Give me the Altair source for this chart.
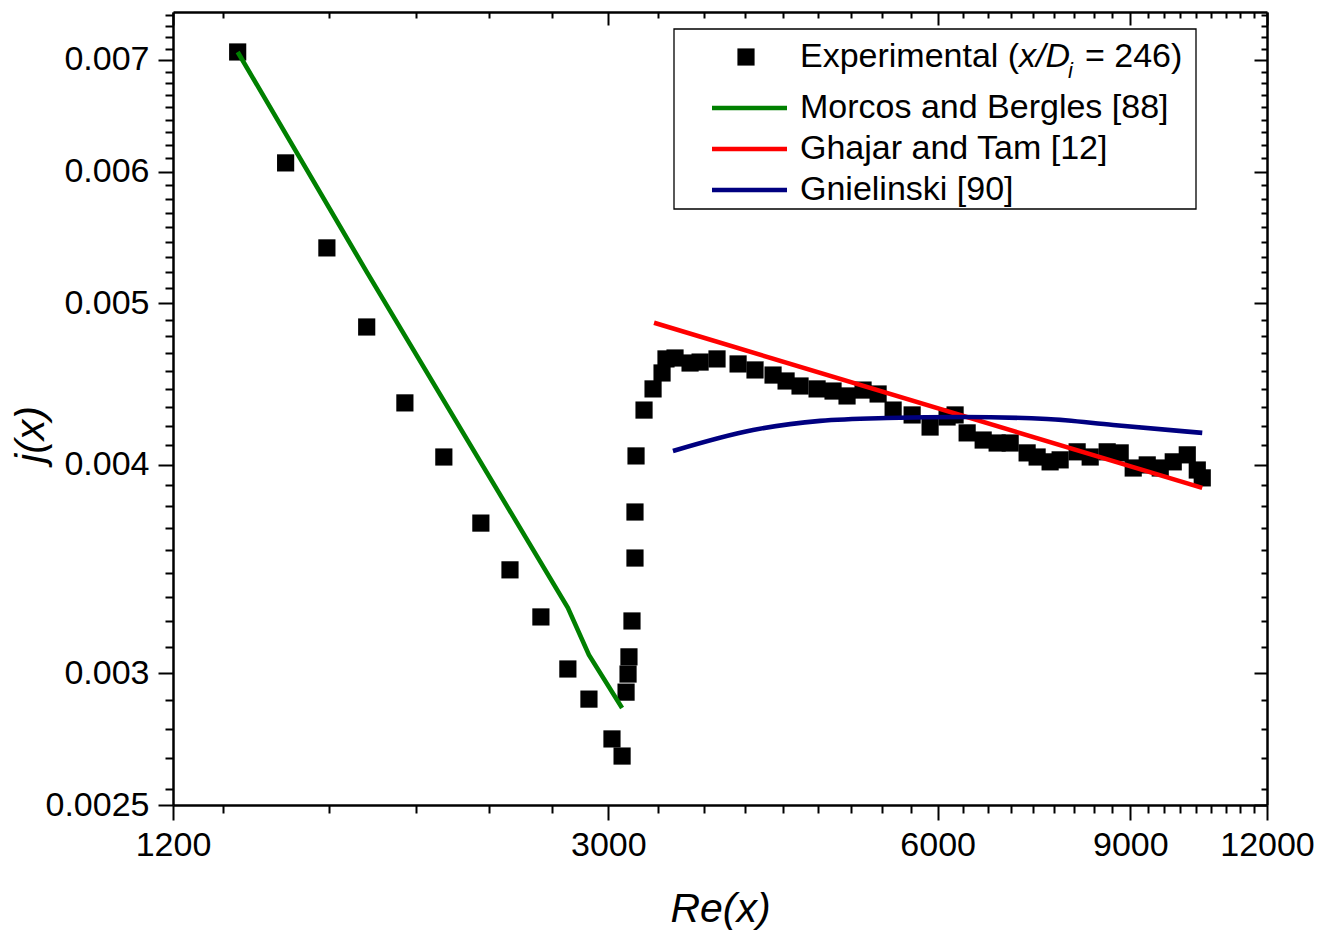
import altair as alt
import pandas as pd

# ---------------- data ----------------
re_exp = [1375, 1521, 1659, 1804, 1955, 2122, 2294, 2439, 2603, 2755,
          2880, 3023, 3088, 3114, 3127, 3133, 3153, 3173, 3173, 3180,
          3234, 3296, 3359, 3387, 3452, 3563, 3639, 3771, 3942, 4085,
          4243, 4361, 4491, 4655, 4814, 4958, 5128, 5293, 5463, 5686,
          5905, 6120, 6224, 6384, 6603, 6800, 6989, 7243, 7397, 7602,
          7764, 8047, 8271, 8572, 8810, 9055, 9326, 9585, 9851, 10146,
          10362, 10471]
j_exp = [0.007078, 0.006072, 0.005399, 0.004840, 0.004358, 0.004044, 0.003691, 0.003460, 0.003242, 0.003017,
         0.002894, 0.002739, 0.002675, 0.002922, 0.002996, 0.003068, 0.003224, 0.003517, 0.003748, 0.004050,
         0.004315, 0.004443, 0.004542, 0.004631, 0.004637, 0.004605, 0.004611, 0.004631, 0.004599, 0.004561,
         0.004529, 0.004492, 0.004461, 0.004443, 0.004430, 0.004400, 0.004436, 0.004412, 0.004315, 0.004286,
         0.004215, 0.004274, 0.004286, 0.004181, 0.004140, 0.004123, 0.004123, 0.004067, 0.004044, 0.004017,
         0.004028, 0.004073, 0.004044, 0.004073, 0.004067, 0.003983, 0.004000, 0.003983, 0.004017, 0.004056,
         0.003972, 0.003929]

re_mb = [1375, 1804, 2755, 2880, 3088]
j_mb = [0.007078, 0.005223, 0.003283, 0.003076, 0.002859]

re_gt = [3303, 10471]
j_gt = [0.004868, 0.003875]

re_gn = [3437, 4068, 4685, 5394, 6330, 7554, 8681, 10471]
j_gn = [0.004078, 0.004198, 0.004251, 0.004268, 0.004274, 0.004262, 0.004227, 0.004181]

X_MAJOR = [1200, 3000, 6000, 9000, 12000]
Y_MAJOR = [0.0025, 0.003, 0.004, 0.005, 0.006, 0.007]
X_MINOR = [k * 3000 / 9 for k in range(4, 36) if k % 9 != 0]
Y_MINOR = [k * 0.001 / 9 for k in range(23, 68) if k % 9 != 0]

SERIES = ["Experimental", "Morcos and Bergles [88]", "Ghajar and Tam [12]", "Gnielinski [90]"]
COLORS = ["#000000", "#008000", "#FF0000", "#000080"]

# ---------------- layout ----------------
W, H = 1094, 793
FONT = "Liberation Sans"
LW = 4.6

x_ticks = sorted(X_MAJOR + X_MINOR)
y_ticks = sorted(Y_MAJOR + Y_MINOR)
x_major_js = "[" + ",".join(repr(v) for v in X_MAJOR) + "]"
y_major_js = "[" + ",".join(repr(v) for v in Y_MAJOR) + "]"
x_is_major = f"indexof({x_major_js}, datum.value) >= 0"
y_is_major = f"indexof({y_major_js}, datum.value) >= 0"

x_scale = alt.Scale(type="log", domain=[1200, 12000], nice=False)
y_scale = alt.Scale(type="log", domain=[0.0025, 0.00748], nice=False)

common = dict(tickColor="black", tickWidth=2, domainColor="black", domainWidth=2.5,
              labelFont=FONT, labelFontSize=34, labelColor="black", grid=False,
              labelOverlap=False, labelFlush=False)

x_bottom = alt.Axis(orient="bottom", values=x_ticks,
                    tickSize={"condition": {"test": x_is_major, "value": 15}, "value": 8},
                    labelExpr=f"{x_is_major} ? format(datum.value, 'd') : ''",
                    labelPadding=8,
                    title="Re(x)", titleFont=FONT, titleFontSize=41, titleFontStyle="italic",
                    titleFontWeight="normal", titleColor="black",
                    titleX=W / 2, titleY=104, titleBaseline="middle", titleAlign="center",
                    **common)
y_left = alt.Axis(orient="left", values=y_ticks,
                  tickSize={"condition": {"test": y_is_major, "value": 15}, "value": 8},
                  labelExpr=f"{y_is_major} ? format(datum.value, '~g') : ''",
                  labelPadding=9,
                  title="j(x)", titleFont=FONT, titleFontSize=41, titleFontStyle="italic",
                  titleFontWeight="normal", titleColor="black",
                  titleX=-142, titleY=422, titleBaseline="middle", titleAlign="center",
                  **common)
x_top = alt.Axis(orient="bottom", offset=-H, values=x_ticks, labels=False, title=None,
                 tickSize={"condition": {"test": x_is_major, "value": 13}, "value": 6},
                 tickColor="black", tickWidth=2, domainColor="black", domainWidth=2.5, grid=False)
y_right = alt.Axis(orient="left", offset=-W, values=y_ticks, labels=False, title=None,
                   tickSize={"condition": {"test": y_is_major, "value": 13}, "value": 6},
                   tickColor="black", tickWidth=2, domainColor="black", domainWidth=2.5, grid=False)

df_exp = pd.DataFrame({"re": re_exp, "j": j_exp})
df_mb = pd.DataFrame({"re": re_mb, "j": j_mb})
df_gt = pd.DataFrame({"re": re_gt, "j": j_gt})
df_gn = pd.DataFrame({"re": re_gn, "j": j_gn})

points = alt.Chart(df_exp).mark_square(size=295, color=COLORS[0], opacity=1, strokeWidth=0).encode(
    x=alt.X("re:Q", scale=x_scale, axis=x_bottom),
    y=alt.Y("j:Q", scale=y_scale, axis=y_left),
)

green = alt.Chart(df_mb).mark_line(color=COLORS[1], strokeWidth=LW).encode(
    x=alt.X("re:Q", scale=x_scale, axis=None),
    y=alt.Y("j:Q", scale=y_scale, axis=None),
)
red = alt.Chart(df_gt).mark_line(color=COLORS[2], strokeWidth=LW).encode(
    x=alt.X("re:Q", scale=x_scale, axis=None),
    y=alt.Y("j:Q", scale=y_scale, axis=None),
)
blue = alt.Chart(df_gn).mark_line(color=COLORS[3], strokeWidth=LW, interpolate="monotone").encode(
    x=alt.X("re:Q", scale=x_scale, axis=x_top),
    y=alt.Y("j:Q", scale=y_scale, axis=y_right),
)

# ---------------- manual legend (inside plot, top right) ----------------
one = alt.Data(values=[{"k": 1}])
box = alt.Chart(one).mark_rect(fill="white", stroke="black", strokeWidth=1.3).encode(
    x=alt.value(501), x2=alt.value(1023), y=alt.value(17), y2=alt.value(197))
leg_sq = alt.Chart(one).mark_square(size=295, color=COLORS[0], opacity=1).encode(
    x=alt.value(573), y=alt.value(45))
row_y = [96, 137, 178]
leg_lines = [
    alt.Chart(one).mark_rule(color=c, strokeWidth=LW).encode(
        x=alt.value(539), x2=alt.value(614), y=alt.value(yy))
    for c, yy in zip(COLORS[1:], row_y)
]


def txt(s, x, y, size=34, style="normal"):
    return alt.Chart(one).mark_text(align="left", baseline="middle", font=FONT, fontSize=size,
                                    fontStyle=style, color="black").encode(
        x=alt.value(x), y=alt.value(y), text=alt.value(s))


leg_texts = [
    txt("Experimental (", 627, 45),
    txt("x/D", 846, 45, style="italic"),
    txt("i", 895, 59, size=22, style="italic"),
    txt("= 246)", 912, 45),
]
for s, yy in zip(SERIES[1:], row_y):
    leg_texts.append(txt(s, 627, yy))

chart = alt.layer(points, green, red, blue, box, leg_sq, *leg_lines, *leg_texts).resolve_axis(
    x="independent", y="independent"
).properties(
    width=W, height=H,
    autosize=alt.AutoSizeParams(type="none"),
    padding={"left": 173, "top": 12, "right": 65, "bottom": 128},
    background="white",
).configure_view(strokeWidth=0)

chart.save("out.html", embed_options={"renderer": "svg", "actions": False})
